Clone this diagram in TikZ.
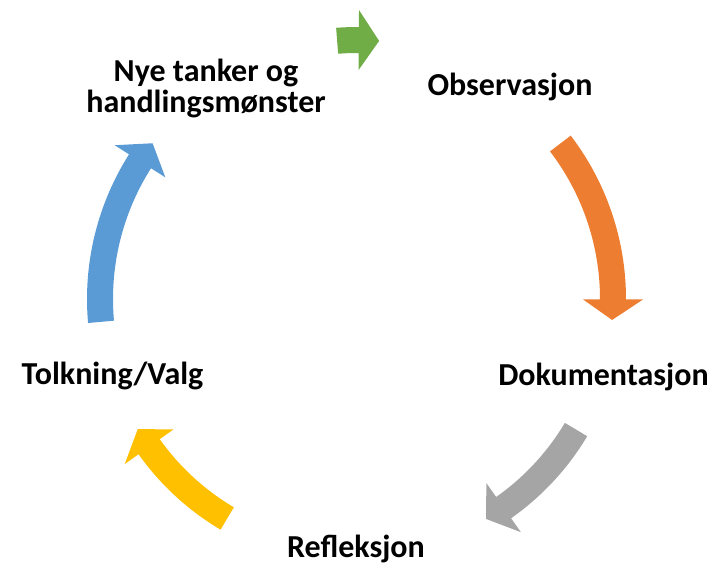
\documentclass[tikz,border=0pt]{standalone}
\usepackage{fontspec}
\setmainfont{Carlito}
\definecolor{cgreen}{HTML}{70AD47}
\definecolor{corange}{HTML}{ED7D31}
\definecolor{cgray}{HTML}{A5A5A5}
\definecolor{cyellow}{HTML}{FFC000}
\definecolor{cblue}{HTML}{5B9BD5}
\newcommand\cyclearrow[5]{%
  \fill[#1] (#3:{#2+13}) arc[start angle=#3, end angle=#4, radius={#2+13}]
    -- (#4:{#2+30}) -- (#5:#2) -- (#4:{#2-30}) -- (#4:{#2-13})
    arc[start angle=#4, end angle=#3, radius={#2-13}] -- cycle;}
\begin{document}
\begin{tikzpicture}[x=1pt,y=1pt,
  lbl/.style={font=\fontsize{32}{31}\selectfont\bfseries, inner sep=0pt, text=black}]
\useasboundingbox (0,0) rectangle (710,570);
\begin{scope}[shift={(357,271)}]
  \cyclearrow{cgreen}{259}{94.4}{89.6}{85.1}
  \cyclearrow{corange}{256}{37.4}{-0.1}{-4.7}
  \cyclearrow{cgray}{255}{-30.8}{-54.9}{-59.6}
  \cyclearrow{cyellow}{255}{-120.6}{-144.6}{-149.3}
  \cyclearrow{cblue}{257}{185.1}{147.6}{142.7}
\end{scope}
\node[lbl, anchor=base] (obs) at (510,474) {Observasjon};
\node[lbl, anchor=base] (dok) at (603.5,184) {Dokumentasjon};
\node[lbl, anchor=base] (ref) at (356,12) {Refleksjon};
\node[lbl, anchor=base] (tol) at (112.5,185) {Tolkning/Valg};
\node[lbl, anchor=base, align=center] (nye) at (206,457) {Nye tanker og\\handlingsmønster};
\end{tikzpicture}
\end{document}
